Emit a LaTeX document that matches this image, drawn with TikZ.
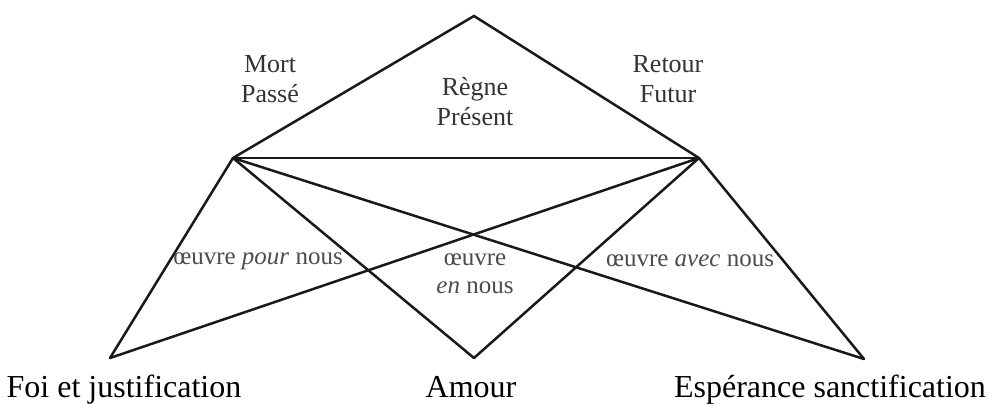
\documentclass[tikz,border=0pt]{standalone}
\usepackage{fontspec}
\setmainfont{Liberation Serif}
\begin{document}
\begin{tikzpicture}[x=0.5pt,y=-0.5pt,
  edge/.style={line width=1.25pt,line cap=round,black!90},
  toplabel/.style={font=\fontsize{13}{15}\selectfont,text=black!80,align=center,inner sep=0pt},
  inlabel/.style={font=\fontsize{12.5}{14}\selectfont,text=black!70,align=center,inner sep=0pt},
  botlabel/.style={font=\fontsize{16}{18}\selectfont,inner sep=0pt,anchor=base}]
\useasboundingbox (0,0) rectangle (988,405);
\coordinate (A) at (474,16);
\coordinate (L) at (233,158);
\coordinate (R) at (699,158);
\coordinate (BL) at (110,358);
\coordinate (BM) at (474,358);
\coordinate (BR) at (864,359);
\draw[edge] (L) -- (A) -- (R);
\draw[edge] (L) -- (R);
\draw[edge] (L) -- (BL);
\draw[edge] (L) -- (BM);
\draw[edge] (L) -- (BR);
\draw[edge] (R) -- (BL);
\draw[edge] (R) -- (BM);
\draw[edge] (R) -- (BR);
\node[toplabel] (mort) at (270,79) {Mort\\Passé};
\node[toplabel] (regne) at (475,102) {Règne\\Présent};
\node[toplabel] (retour) at (668,79) {Retour\\Futur};
\node[inlabel] (pour) at (258,261) {œuvre \textit{pour} nous};
\node[inlabel] (en) at (475,274) {œuvre\\\textit{en} nous};
\node[inlabel] (avec) at (690,261) {œuvre \textit{avec} nous};
\node[botlabel] (foi) at (124,397) {Foi et justification};
\node[botlabel] (amour) at (471,397) {Amour};
\node[botlabel] (esp) at (830,397) {Espérance sanctification};
\end{tikzpicture}
\end{document}
